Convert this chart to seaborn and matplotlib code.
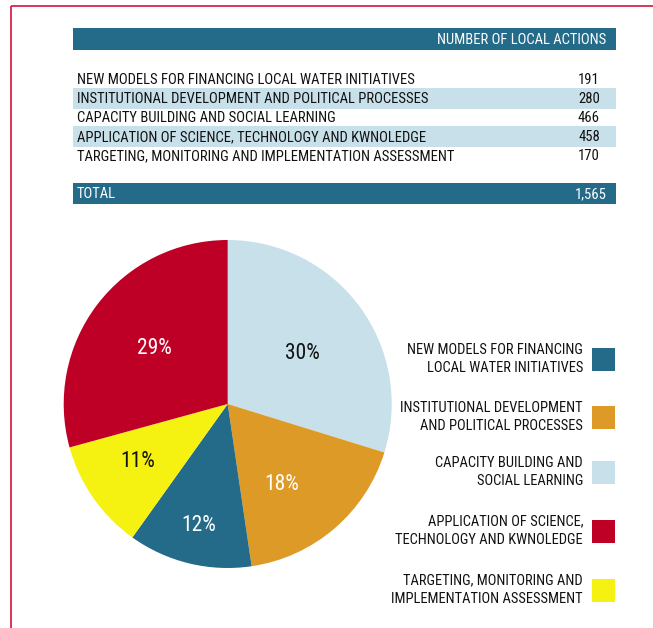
import matplotlib
matplotlib.use("Agg")
import matplotlib.pyplot as plt
from matplotlib import font_manager
from matplotlib.patches import Rectangle
import numpy as np
import seaborn as sns

# ---------------- data ----------------
categories = [
    "NEW MODELS FOR FINANCING LOCAL WATER INITIATIVES",
    "INSTITUTIONAL DEVELOPMENT AND POLITICAL PROCESSES",
    "CAPACITY BUILDING AND SOCIAL LEARNING",
    "APPLICATION OF SCIENCE, TECHNOLOGY AND KWNOLEDGE",
    "TARGETING, MONITORING AND IMPLEMENTATION ASSESSMENT",
]
legend_labels = [
    "NEW MODELS FOR FINANCING\nLOCAL WATER INITIATIVES",
    "INSTITUTIONAL DEVELOPMENT\nAND POLITICAL PROCESSES",
    "CAPACITY BUILDING AND\nSOCIAL LEARNING",
    "APPLICATION OF SCIENCE,\nTECHNOLOGY AND KWNOLEDGE",
    "TARGETING, MONITORING AND\nIMPLEMENTATION ASSESSMENT",
]
values = [191, 280, 466, 458, 170]
header_label = "NUMBER OF LOCAL ACTIONS"
total_label = "TOTAL"
total_value = "1,565"
pie_order = [2, 1, 0, 4, 3]  # clockwise from 12 o'clock

# ---------------- style ----------------
sns.set_theme(style="white")
colors = sns.color_palette(["#246B89", "#DE9A26", "#C8E0EA", "#BE0027", "#F5F212"])
dark_blue = "#246B89"
band_color = "#C8E0EA"
border_color = "#D7264B"

cands = ["Liberation Sans Narrow", "Roboto Condensed", "DejaVu Sans Condensed", "Open Sans Condensed"]
avail = {f.name for f in font_manager.fontManager.ttflist}
narrow = None
for c in cands:
    if c in avail:
        narrow = c
        break
if narrow is None:
    narrow = "Liberation Sans"
    scale = 0.85
else:
    scale = 1.0
plt.rcParams["font.family"] = [narrow, "DejaVu Sans"]

W, H = 653, 628
fig = plt.figure(figsize=(W / 100, H / 100), dpi=100)
fig.patch.set_facecolor("white")

# background overlay axes in pixel coords (y down)
bg = fig.add_axes([0, 0, 1, 1])
bg.set_xlim(0, W)
bg.set_ylim(H, 0)
bg.axis("off")

# border
bg.plot([11, W + 5], [6, 6], color=border_color, lw=1.3, solid_capstyle="butt")
bg.plot([11, 11], [6, H + 5], color=border_color, lw=1.3, solid_capstyle="butt")

tx0, tx1 = 73, 616
fs_table = 10.55 * scale
# header bar
bg.add_patch(Rectangle((tx0, 28), tx1 - tx0, 22, color=dark_blue, lw=0))
bg.text(606, 40, header_label, ha="right", va="center", color="white", fontsize=fs_table)

row_y0, row_step = 80, 19.1
for i, (cat, val) in enumerate(zip(categories, values)):
    y = row_y0 + i * row_step
    if i % 2 == 1:
        bg.add_patch(Rectangle((tx0, y - 11), tx1 - tx0, 21, color=band_color, lw=0))
    bg.text(77, y, cat, ha="left", va="center", color="#111111", fontsize=fs_table)
    bg.text(600, y, f"{val}", ha="right", va="center", color="#111111", fontsize=fs_table)

# total bar
bg.add_patch(Rectangle((tx0, 183), tx1 - tx0, 21, color=dark_blue, lw=0))
bg.text(77, 194, total_label, ha="left", va="center", color="white", fontsize=fs_table)
bg.text(607, 194, total_value, ha="right", va="center", color="white", fontsize=fs_table)

# ---------------- pie ----------------
cx, cy, r = 227.7, 404, 164
pie_ax = fig.add_axes([(cx - r) / W, (H - cy - r) / H, 2 * r / W, 2 * r / H])
pie_vals = [values[i] for i in pie_order]
pie_cols = [colors[i] for i in pie_order]
wedges, _ = pie_ax.pie(pie_vals, colors=pie_cols, startangle=90, counterclock=False,
                       wedgeprops=dict(linewidth=0))
pie_ax.set_xlim(-1, 1)
pie_ax.set_ylim(-1, 1)
pie_ax.set_aspect("equal")
pie_ax.axis("off")

label_dist = [0.55, 0.59, 0.76, 0.65, 0.56]
label_angle_shift = [-2.5, -6.5, 0, -2, 0]
label_cols = ["#111111", "white", "white", "#111111", "white"]
tot = sum(values)
for w, v, d, s, c in zip(wedges, pie_vals, label_dist, label_angle_shift, label_cols):
    ang = np.deg2rad((w.theta1 + w.theta2) / 2 + s)
    pie_ax.text(d * np.cos(ang), d * np.sin(ang), f"{round(100 * v / tot)}%",
                ha="center", va="center", color=c, fontsize=15.5 * scale)

# ---------------- legend ----------------
leg_y = [359, 417, 472, 531, 590]
for i, lab in enumerate(legend_labels):
    y = leg_y[i]
    bg.add_patch(Rectangle((592, y - 11.5), 23, 23, color=colors[i], lw=0))
    bg.text(583, y, lab, ha="right", va="center", multialignment="right",
            color="#111111", fontsize=fs_table * 0.99, linespacing=1.42)

fig.savefig("out.png", dpi=100, facecolor="white")
